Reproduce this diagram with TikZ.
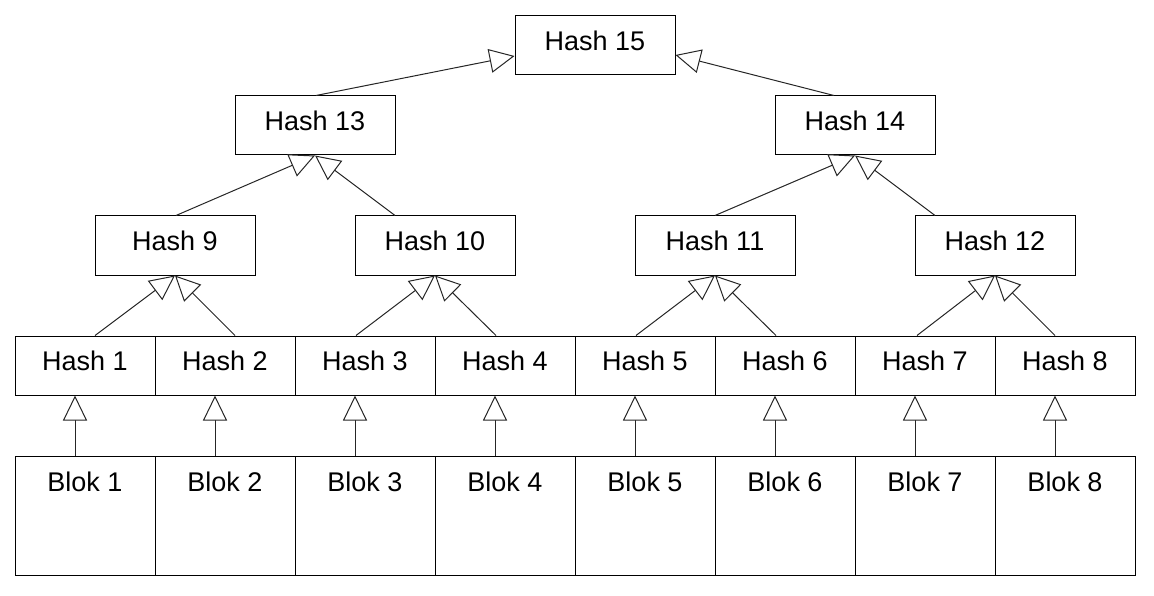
\documentclass[tikz,border=0pt]{standalone}
\usepackage{fontspec}
\setmainfont{Liberation Sans}
\usetikzlibrary{arrows.meta}
\begin{document}
\begin{tikzpicture}[x=1pt,y=-1pt,
  hbox/.style={draw=black,line width=1pt,minimum width=160pt,minimum height=59pt,inner sep=0pt,
    font=\fontsize{27}{32}\selectfont,text height=19.5pt,text depth=9.5pt},
  leafbox/.style={hbox,minimum width=140pt},
  blockbox/.style={draw=black,line width=1pt,minimum width=140pt,minimum height=119pt,inner sep=0pt},
  blocktext/.style={anchor=base,inner sep=0pt,font=\fontsize{27}{32}\selectfont},
  link/.style={draw=black!85,line width=1pt,-{Triangle[length=25pt,width=24pt,fill=white,line width=1pt]}}
]
\useasboundingbox (0,0) rectangle (1154,596);
% top levels
\node[hbox] (h15) at (595,45.5) {Hash 15};
\node[hbox] (h13) at (315,125.5) {Hash 13};
\node[hbox] (h14) at (855,125.5) {Hash 14};
\node[hbox] (h9) at (175,245.5) {Hash 9};
\node[hbox] (h10) at (435,245.5) {Hash 10};
\node[hbox] (h11) at (715,245.5) {Hash 11};
\node[hbox] (h12) at (995,245.5) {Hash 12};
% leaves and blocks
\foreach \i in {1,...,8}{
  \pgfmathsetmacro{\xx}{85+140*(\i-1)}
  \node[leafbox] (h\i) at (\xx,365.5) {Hash \i};
  \node[blockbox] (b\i) at (\xx,515.5) {};
  \node[blocktext] (bt\i) at (\xx,491) {Blok \i};
}
% block -> hash arrows
\foreach \i in {1,...,8}{
  \draw[link] ([xshift=-10pt]b\i.north) -- ([xshift=-10pt]h\i.south);
}
% leaf hash -> level 2
\draw[link] ([xshift=10pt]h1.north) -- (h9.south);
\draw[link] ([xshift=10pt]h2.north) -- (h9.south);
\draw[link] ([xshift=-9pt]h3.north) -- (h10.south);
\draw[link] ([xshift=-9pt]h4.north) -- (h10.south);
\draw[link] ([xshift=-9pt]h5.north) -- (h11.south);
\draw[link] ([xshift=-9pt]h6.north) -- (h11.south);
\draw[link] ([xshift=-8pt]h7.north) -- (h12.south);
\draw[link] ([xshift=-10pt]h8.north) -- (h12.south);
% level 2 -> level 3
\draw[link] ([xshift=1pt]h9.north) -- (h13.south);
\draw[link] ([xshift=-40pt]h10.north) -- (h13.south);
\draw[link] (h11.north) -- (h14.south);
\draw[link] ([xshift=-60pt]h12.north) -- (h14.south);
% level 3 -> root
\draw[link] ([xshift=1pt]h13.north) -- ([yshift=-10.5pt]h15.west);
\draw[link] ([xshift=-21pt]h14.north) -- ([yshift=-9.5pt]h15.east);
\end{tikzpicture}
\end{document}
